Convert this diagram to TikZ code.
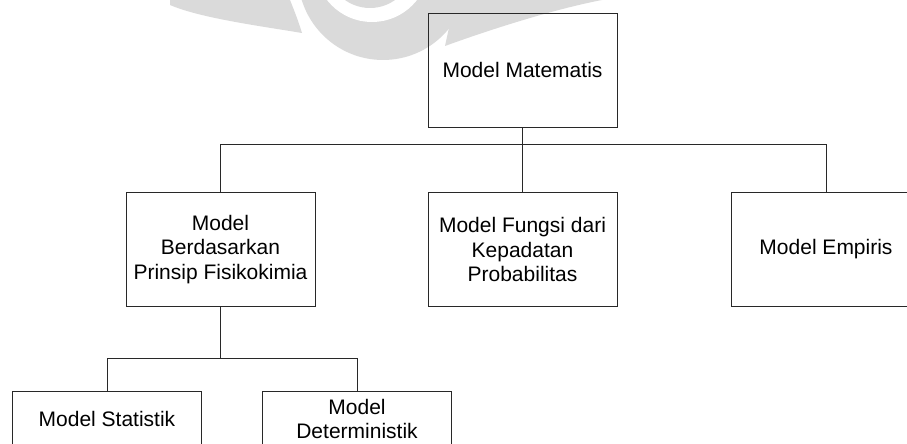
\documentclass[tikz,border=0pt]{standalone}
\usepackage{fontspec}
\setmainfont{Liberation Sans}
\definecolor{wm}{RGB}{218,218,218}
\definecolor{edge}{RGB}{40,40,40}
\begin{document}
\begin{tikzpicture}[x=1pt,y=-1pt,
  box/.style={draw=edge, line width=0.9pt, rectangle, inner sep=0pt,
    minimum width=189pt, minimum height=114pt, align=center,
    font=\fontsize{21}{24.5}\selectfont},
  smallbox/.style={box, minimum height=56pt},
  link/.style={draw=edge, line width=0.9pt}]
\useasboundingbox (0,0) rectangle (907,444);
\clip (0,0) rectangle (907,444);
% faint watermark
\fill[wm] (170,0) -- (170,5) .. controls (200,18) and (260,26) .. (302,33)
  .. controls (298,20) and (294,10) .. (290,0) -- cycle;
\fill[wm] (383,-25) circle[radius=85];
\fill[wm] (445,46) .. controls (500,26) and (560,8) .. (602,0) -- (455,0) -- cycle;
\fill[white] (372,-35) circle[radius=57];
\fill[wm] (370,-35) circle[radius=43];
% nodes
\node[box] (mm) at (522.5,70) {Model Matematis};
\node[box] (bp) at (220.5,249.5) {Model\\Berdasarkan\\Prinsip Fisikokimia};
\node[box] (fk) at (522.5,249.5) {Model Fungsi dari\\Kepadatan\\Probabilitas};
\node[box] (me) at (826,249.5) {Model Empiris};
\node[smallbox] (ms) at (107,419) {Model Statistik};
\node[smallbox] (md) at (357,419) {Model\\Deterministik};
% connectors
\draw[link] (mm.south) -- (fk.north);
\draw[link] (mm.south) -- ++(0,17) -| (bp.north);
\draw[link] (mm.south) -- ++(0,17) -| (me.north);
\draw[link] (bp.south) -- ++(0,51) -| (ms.north);
\draw[link] (bp.south) -- ++(0,51) -| (md.north);
\end{tikzpicture}
\end{document}
